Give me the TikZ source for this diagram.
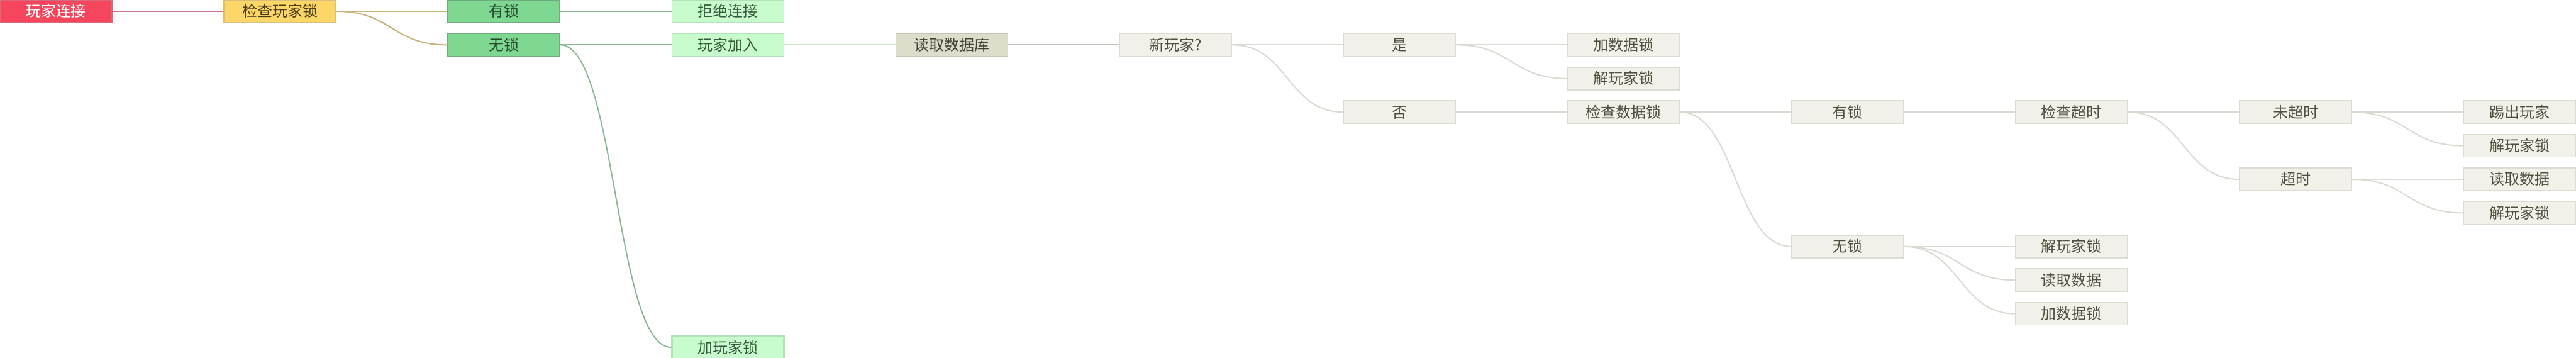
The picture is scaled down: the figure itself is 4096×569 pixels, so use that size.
\documentclass[tikz,border=0pt]{standalone}
\usepackage{fontspec}
\setmainfont{Noto Sans CJK SC}
\definecolor{redF}{HTML}{F6465E}
\definecolor{redB}{HTML}{D86A7C}
\definecolor{yelF}{HTML}{FCD767}
\definecolor{yelB}{HTML}{D8C07C}
\definecolor{yelT}{HTML}{4A3C12}
\definecolor{grnF}{HTML}{7ED891}
\definecolor{grnB}{HTML}{6FAD7E}
\definecolor{grnT}{HTML}{244A2C}
\definecolor{lgrF}{HTML}{C8FBCD}
\definecolor{lgrB}{HTML}{B2E2BA}
\definecolor{lgrT}{HTML}{355A38}
\definecolor{begF}{HTML}{DDDDCB}
\definecolor{begB}{HTML}{C6C6B5}
\definecolor{begT}{HTML}{3F3F33}
\definecolor{ltF}{HTML}{F1F1E9}
\definecolor{ltB}{HTML}{DCDCD2}
\definecolor{ltT}{HTML}{4F4F40}
\definecolor{lnR}{HTML}{C27585}
\definecolor{lnY}{HTML}{C7B17E}
\definecolor{lnG}{HTML}{8DB89A}
\definecolor{lnL}{HTML}{C2E8C8}
\definecolor{lnB}{HTML}{C4C4BA}
\definecolor{lnT}{HTML}{DADAD2}
\tikzset{
  box/.style={minimum width=178pt, minimum height=36pt, inner sep=0pt,
    line width=1.5pt, font=\fontsize{24}{24}\selectfont,
    text height=21pt, text depth=3pt},
  redbox/.style={box, fill=redF, draw=redB, text=white},
  yelbox/.style={box, fill=yelF, draw=yelB, text=yelT},
  grnbox/.style={box, fill=grnF, draw=grnB, text=grnT},
  lgrbox/.style={box, fill=lgrF, draw=lgrB, text=lgrT},
  begbox/.style={box, fill=begF, draw=begB, text=begT},
  ltbox/.style={box, fill=ltF, draw=ltB, text=ltT},
  lnk/.style={line width=2pt},
}
\newcommand{\lk}[3]{\draw[lnk,#1] (#2.east) .. controls +(89,0) and +(-89,0) .. (#3.west);}
\begin{document}
\begin{tikzpicture}[x=1pt,y=-1pt]
\useasboundingbox (0,0) rectangle (4096,569);
% nodes
\node[redbox] (a0) at (89,18) {玩家连接};
\node[yelbox] (a1) at (445.1,18) {检查玩家锁};
\node[grnbox] (b1) at (801.2,18) {有锁};
\node[grnbox] (b2) at (801.2,71.4) {无锁};
\node[lgrbox] (c1) at (1157.3,18) {拒绝连接};
\node[lgrbox] (c2) at (1157.3,71.4) {玩家加入};
\node[lgrbox, line width=2.5pt] (c3) at (1157.3,552) {加玩家锁};
\node[begbox] (d1) at (1513.4,71.4) {读取数据库};
\node[ltbox] (e1) at (1869.5,71.4) {新玩家?};
\node[ltbox] (f1) at (2225.6,71.4) {是};
\node[ltbox] (f2) at (2225.6,178.2) {否};
\node[ltbox] (g1) at (2581.7,71.4) {加数据锁};
\node[ltbox] (g2) at (2581.7,124.8) {解玩家锁};
\node[ltbox] (g3) at (2581.7,178.2) {检查数据锁};
\node[ltbox] (h1) at (2937.8,178.2) {有锁};
\node[ltbox] (h2) at (2937.8,391.8) {无锁};
\node[ltbox] (i1) at (3293.9,178.2) {检查超时};
\node[ltbox] (i2) at (3293.9,391.8) {解玩家锁};
\node[ltbox] (i3) at (3293.9,445.2) {读取数据};
\node[ltbox] (i4) at (3293.9,498.6) {加数据锁};
\node[ltbox] (j1) at (3650,178.2) {未超时};
\node[ltbox] (j2) at (3650,285) {超时};
\node[ltbox] (k1) at (4006.1,178.2) {踢出玩家};
\node[ltbox] (k2) at (4006.1,231.6) {解玩家锁};
\node[ltbox] (k3) at (4006.1,285) {读取数据};
\node[ltbox] (k4) at (4006.1,338.4) {解玩家锁};
% links
\lk{lnR}{a0}{a1}
\lk{lnY}{a1}{b1}
\lk{lnY}{a1}{b2}
\lk{lnG}{b1}{c1}
\lk{lnG}{b2}{c2}
\lk{lnG}{b2}{c3}
\lk{lnL}{c2}{d1}
\lk{lnB}{d1}{e1}
\lk{lnT}{e1}{f1}
\lk{lnT}{e1}{f2}
\lk{lnT}{f1}{g1}
\lk{lnT}{f1}{g2}
\lk{lnT}{f2}{g3}
\lk{lnT}{g3}{h1}
\lk{lnT}{g3}{h2}
\lk{lnT}{h1}{i1}
\lk{lnT}{h2}{i2}
\lk{lnT}{h2}{i3}
\lk{lnT}{h2}{i4}
\lk{lnT}{i1}{j1}
\lk{lnT}{i1}{j2}
\lk{lnT}{j1}{k1}
\lk{lnT}{j1}{k2}
\lk{lnT}{j2}{k3}
\lk{lnT}{j2}{k4}
\end{tikzpicture}
\end{document}
